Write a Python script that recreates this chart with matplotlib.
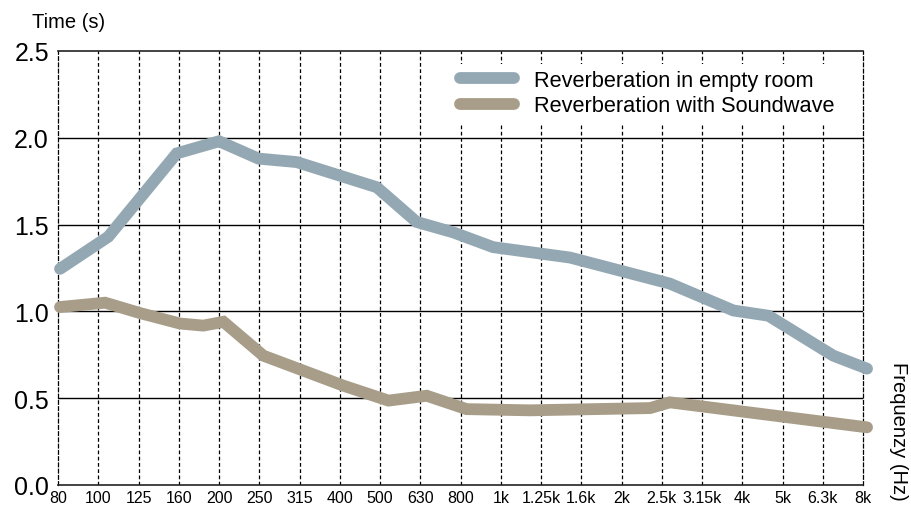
import matplotlib
matplotlib.use("Agg")
import matplotlib.pyplot as plt

plt.rcParams["font.family"] = ["Liberation Sans", "DejaVu Sans"]

freq_labels = ["80", "100", "125", "160", "200", "250", "315", "400", "500", "630",
               "800", "1k", "1.25k", "1.6k", "2k", "2.5k", "3.15k", "4k", "5k", "6.3k", "8k"]

# vertices of each curve: position along the band axis (0 = 80 Hz, 20 = 8 kHz) and time in s
empty_pos = [0.05, 1.25, 2.95, 4.0, 4.98, 5.93, 7.92, 8.91, 9.82, 10.81,
             12.72, 15.2, 16.78, 17.65, 19.26, 20.1]
empty_val = [1.245, 1.43, 1.91, 1.98, 1.88, 1.86, 1.715, 1.515, 1.455, 1.37,
             1.31, 1.16, 1.005, 0.975, 0.745, 0.67]

wave_pos = [0.05, 1.17, 2.04, 3.03, 3.61, 4.11, 5.1, 7.09, 8.21, 9.16,
            10.15, 11.72, 14.71, 15.2, 20.1]
wave_val = [1.025, 1.05, 0.99, 0.93, 0.918, 0.94, 0.745, 0.572, 0.486, 0.514,
            0.437, 0.43, 0.443, 0.476, 0.332]

blue = "#94a8b3"
brown = "#a89d88"

fig = plt.figure(figsize=(9.12, 5.10), dpi=100)
ax = fig.add_axes([0.0636, 0.0471, 0.8827, 0.851])

ax.plot(empty_pos, empty_val, color=blue, lw=8.5, solid_capstyle="round",
        solid_joinstyle="miter", clip_on=False, zorder=3,
        label="Reverberation in empty room")
ax.plot(wave_pos, wave_val, color=brown, lw=8.5, solid_capstyle="round",
        solid_joinstyle="miter", clip_on=False, zorder=3,
        label="Reverberation with Soundwave")

ax.set_xlim(0, len(freq_labels) - 1)
ax.set_ylim(0, 2.5)
ax.set_xticks(range(len(freq_labels)))
ax.set_xticklabels(freq_labels, fontsize=11.5)
ax.set_yticks([0, 0.5, 1.0, 1.5, 2.0, 2.5])
ax.set_yticklabels(["0.0", "0.5", "1.0", "1.5", "2.0", "2.5"], fontsize=18)
ax.tick_params(axis="both", length=0)
ax.tick_params(axis="y", pad=6.5)
ax.tick_params(axis="x", pad=3.3)

for x in range(1, len(freq_labels) - 1):
    ax.axvline(x, color="black", lw=0.9, ls=(0, (3, 2)), zorder=1)
for y in [0.5, 1.0, 1.5, 2.0]:
    ax.axhline(y, color="black", lw=1.0, zorder=1)

for side in ["left", "right"]:
    ax.spines[side].set_linestyle((0, (3, 2)))
    ax.spines[side].set_linewidth(0.9)
for side in ["top", "bottom"]:
    ax.spines[side].set_linewidth(1.2)
    ax.spines[side].set_color("#222222")

leg = ax.legend(loc="upper left", bbox_to_anchor=(0.491, 0.971), fontsize=15.7,
                frameon=True, fancybox=False, edgecolor="none", facecolor="white",
                framealpha=1, handlelength=2.5, handletextpad=0.9,
                labelspacing=0.19, borderpad=0.3, borderaxespad=0)
leg.set_zorder(2)

fig.text(32 / 912, 1 - 22 / 510, "Time (s)", fontsize=14.5, va="center", ha="left")
fig.text(899 / 912, 1 - 362 / 510, "Frequenzy (Hz)", fontsize=14.5, rotation=270,
         va="top", ha="center")

fig.savefig("out.png", dpi=100)
